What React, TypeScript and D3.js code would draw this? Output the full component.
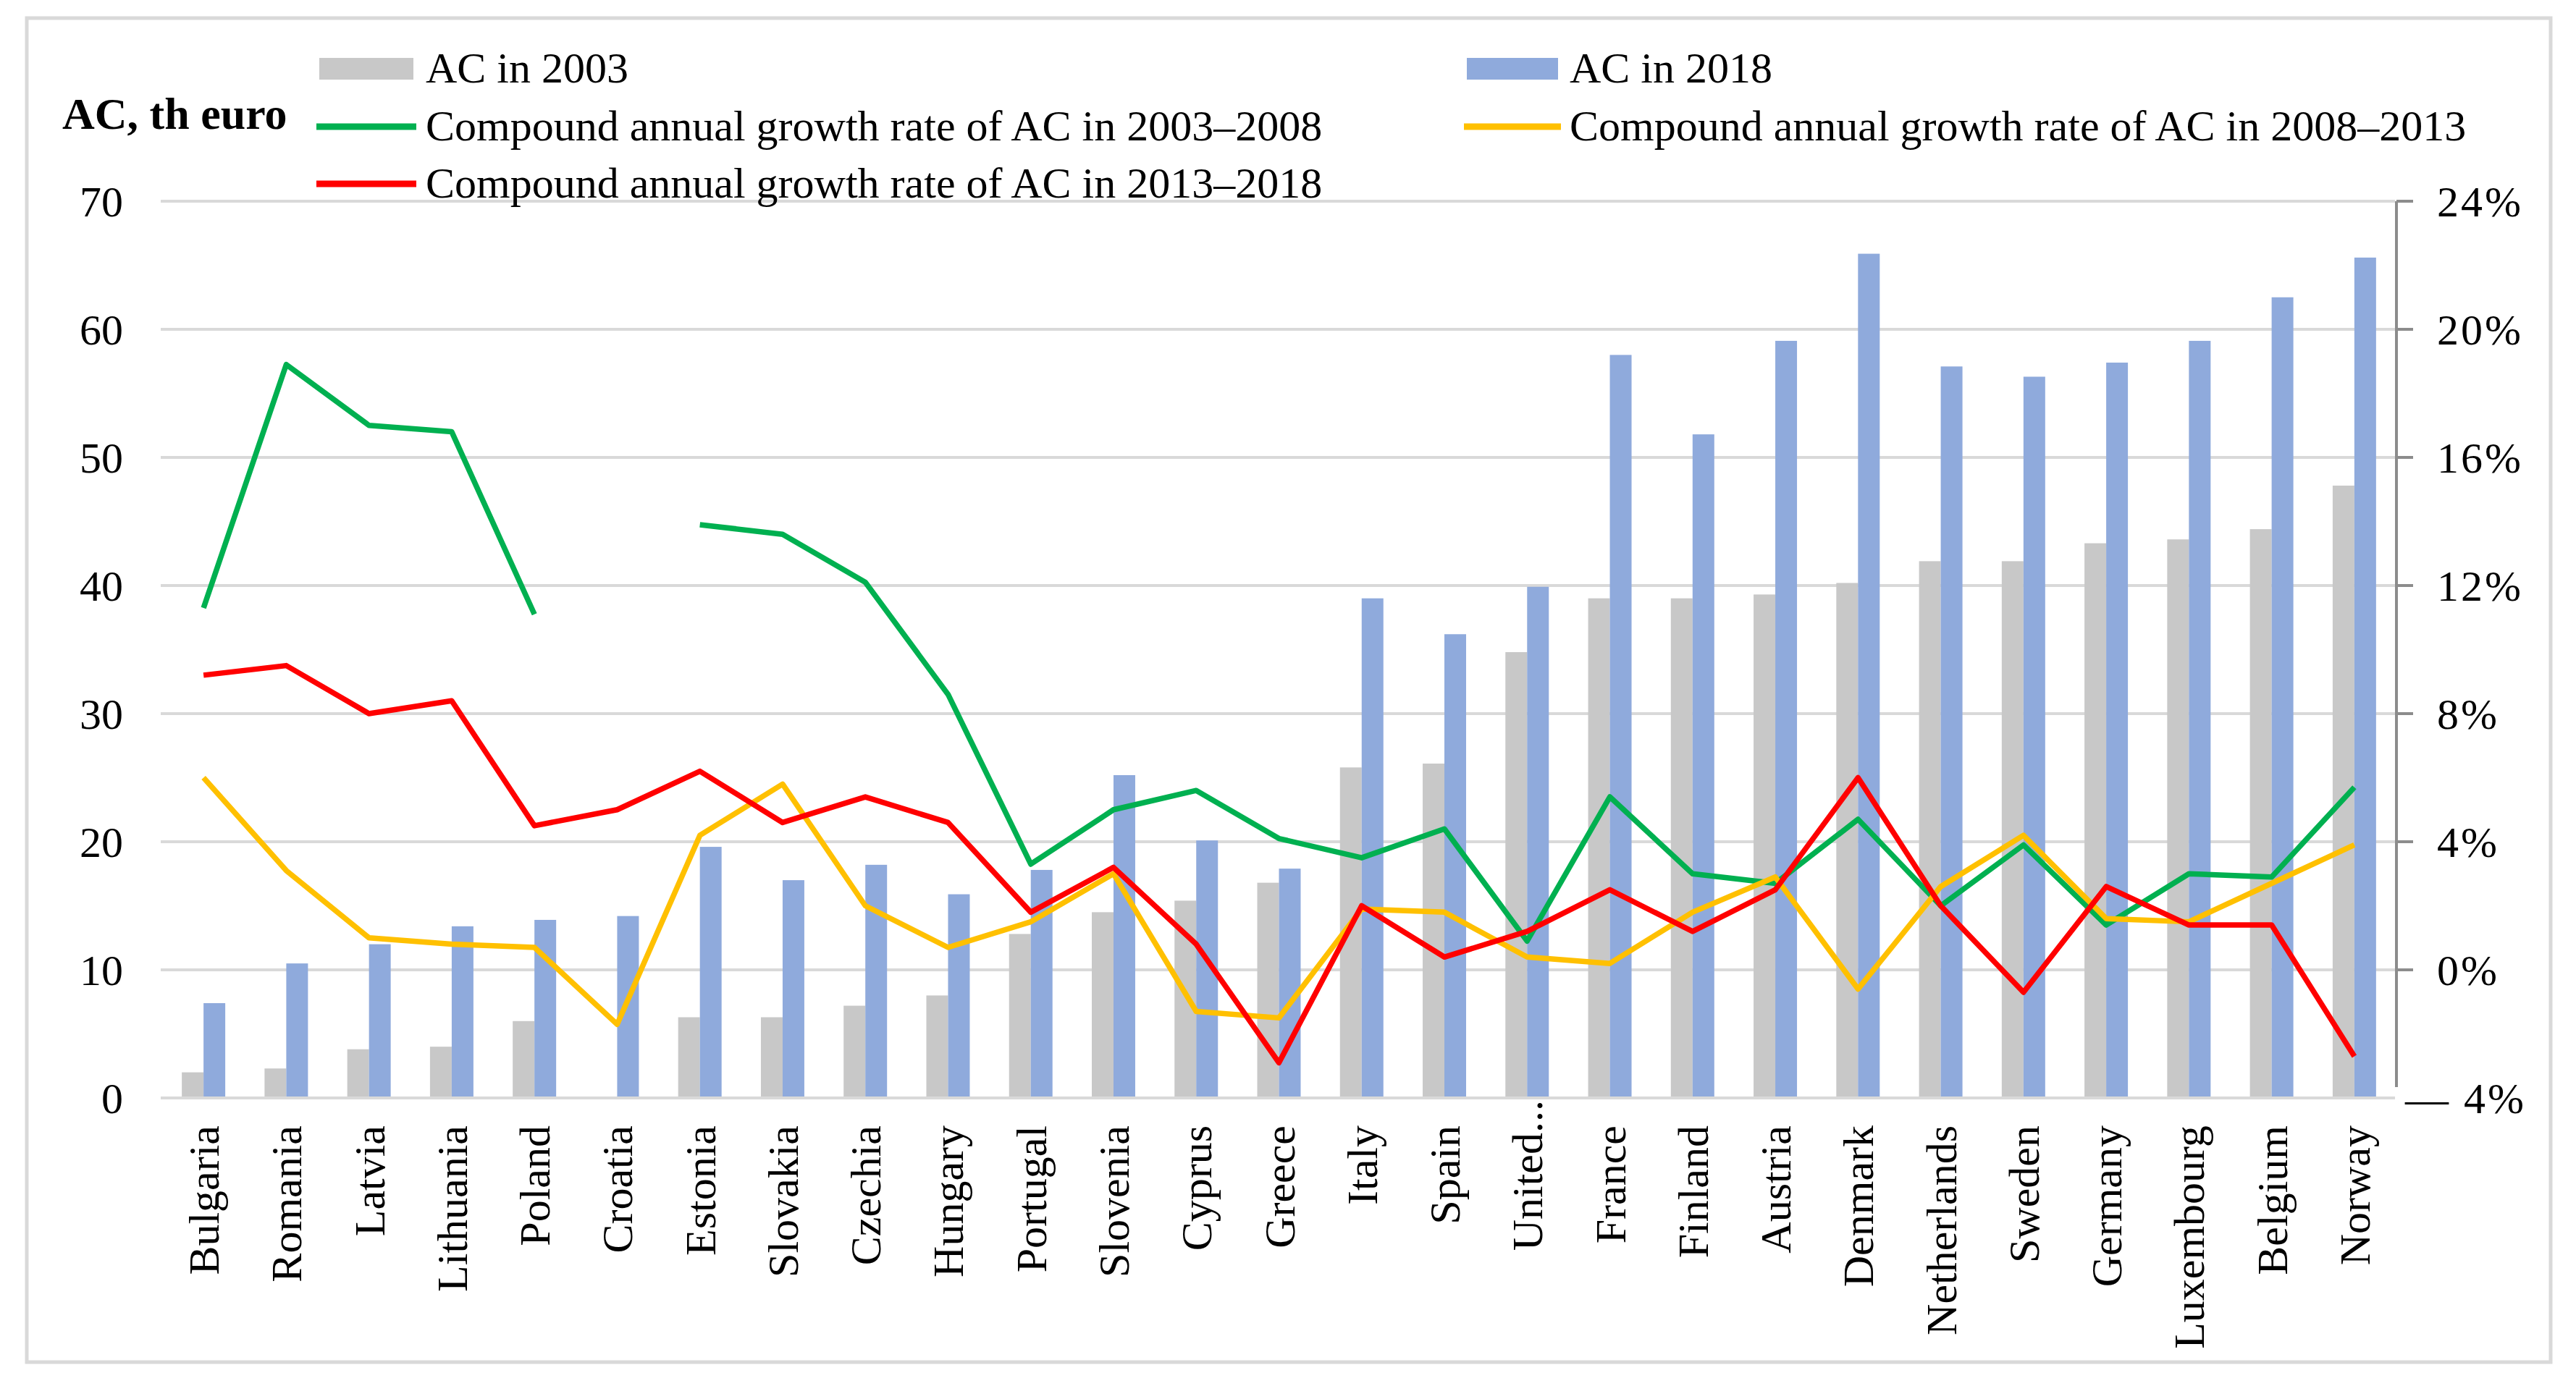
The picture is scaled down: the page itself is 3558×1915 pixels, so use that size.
import React from "react";
import * as d3 from "d3";

const countries = [
  "Bulgaria", "Romania", "Latvia", "Lithuania", "Poland", "Croatia", "Estonia",
  "Slovakia", "Czechia", "Hungary", "Portugal", "Slovenia", "Cyprus", "Greece",
  "Italy", "Spain", "United...", "France", "Finland", "Austria", "Denmark",
  "Netherlands", "Sweden", "Germany", "Luxembourg", "Belgium", "Norway",
];

// AC, th euro
const ac2003: (number | null)[] = [
  2.0, 2.3, 3.8, 4.0, 6.0, null, 6.3, 6.3, 7.2, 8.0, 12.8, 14.5, 15.4, 16.8,
  25.8, 26.1, 34.8, 39.0, 39.0, 39.3, 40.2, 41.9, 41.9, 43.3, 43.6, 44.4, 47.8,
];
const ac2018: number[] = [
  7.4, 10.5, 12.0, 13.4, 13.9, 14.2, 19.6, 17.0, 18.2, 15.9, 17.8, 25.2, 20.1, 17.9,
  39.0, 36.2, 39.9, 58.0, 51.8, 59.1, 65.9, 57.1, 56.3, 57.4, 59.1, 62.5, 65.6,
];

// compound annual growth rates, %
const cagr0308: (number | null)[] = [
  11.3, 18.9, 17.0, 16.8, 11.1, null, 13.9, 13.6, 12.1, 8.6, 3.3, 5.0, 5.6, 4.1,
  3.5, 4.4, 0.9, 5.4, 3.0, 2.7, 4.7, 2.0, 3.9, 1.4, 3.0, 2.9, 5.7,
];
const cagr0813: number[] = [
  6.0, 3.1, 1.0, 0.8, 0.7, -1.7, 4.2, 5.8, 2.0, 0.7, 1.5, 3.0, -1.3, -1.5,
  1.9, 1.8, 0.4, 0.2, 1.8, 2.9, -0.6, 2.6, 4.2, 1.6, 1.5, 2.7, 3.9,
];
const cagr1318: number[] = [
  9.2, 9.5, 8.0, 8.4, 4.5, 5.0, 6.2, 4.6, 5.4, 4.6, 1.8, 3.2, 0.8, -2.9,
  2.0, 0.4, 1.2, 2.5, 1.2, 2.5, 6.0, 2.0, -0.7, 2.6, 1.4, 1.4, -2.7,
];

const leftTicks = [0, 10, 20, 30, 40, 50, 60, 70];
const rightTicks = [-4, 0, 4, 8, 12, 16, 20, 24];
const rightTickLabels = ["\u2014 4%", "0%", "4%", "8%", "12%", "16%", "20%", "24%"];

const W = 3558;
const H = 1915;
const FONT = "'Liberation Serif', 'Times New Roman', serif";

const GRAY = "#c8c8c8";
const BLUE = "#8faadc";
const GREEN = "#00b050";
const YELLOW = "#ffc000";
const RED = "#ff0000";

export default function App() {
  const left = 222;
  const right = 3308;
  const top = 278;
  const bottom = 1517;

  const x0 = d3
    .scaleBand<string>()
    .domain(countries)
    .range([left + 2, right + 1])
    .paddingInner(0.475)
    .paddingOuter(0.2375);
  const x1 = d3.scaleBand<string>().domain(["2003", "2018"]).range([0, x0.bandwidth()]);

  const yL = d3.scaleLinear().domain([0, 70]).range([bottom, top]);
  const yR = d3.scaleLinear().domain([-4, 24]).range([bottom, top]);

  const cx = (i: number) => (x0(countries[i]) ?? 0) + x0.bandwidth() / 2;

  const line = d3
    .line<number | null>()
    .defined((d) => d != null)
    .x((_, i) => cx(i))
    .y((d) => yR(d as number));

  const series = [
    { values: cagr0308, color: GREEN },
    { values: cagr0813, color: YELLOW },
    { values: cagr1318, color: RED },
  ];

  return (
    <div style={{ position: "absolute", left: 0, top: 0, background: "#fff" }}>
      <svg width={W} height={H} viewBox={`0 0 ${W} ${H}`} fontFamily={FONT}>
        <rect x={0} y={0} width={W} height={H} fill="#fff" />
        {/* outer frame */}
        <rect x={37} y={25} width={3486} height={1857} fill="none" stroke="#d9d9d9" strokeWidth={5} />

        {/* gridlines */}
        {leftTicks.map((t) => (
          <line key={`g${t}`} x1={left} x2={right} y1={yL(t)} y2={yL(t)} stroke="#d9d9d9" strokeWidth={4} />
        ))}

        {/* bars */}
        {countries.map((c, i) => (
          <g key={`b${c}`} transform={`translate(${x0(c)},0)`}>
            {ac2003[i] != null && (
              <rect
                x={x1("2003")}
                y={yL(ac2003[i] as number)}
                width={x1.bandwidth()}
                height={bottom - 2 - yL(ac2003[i] as number)}
                fill={GRAY}
              />
            )}
            <rect
              x={x1("2018")}
              y={yL(ac2018[i])}
              width={x1.bandwidth()}
              height={bottom - 2 - yL(ac2018[i])}
              fill={BLUE}
            />
          </g>
        ))}

        {/* growth lines */}
        {series.map((s, k) => (
          <path
            key={`l${k}`}
            d={line(s.values) ?? ""}
            fill="none"
            stroke={s.color}
            strokeWidth={7.5}
            strokeLinejoin="round"
          />
        ))}

        {/* left axis labels */}
        {leftTicks.map((t) => (
          <text key={`lt${t}`} x={170} y={yL(t)} dy="0.35em" textAnchor="end" fontSize={60} fill="#000">
            {t}
          </text>
        ))}

        {/* right axis */}
        <line x1={3310} x2={3310} y1={top} y2={1502} stroke="#8c8c8c" strokeWidth={4} />
        {rightTicks.slice(1).map((t) => (
          <line key={`rt${t}`} x1={3310} x2={3333} y1={yR(t)} y2={yR(t)} stroke="#8c8c8c" strokeWidth={4} />
        ))}
        {rightTicks.map((t, i) => (
          <text
            key={`rl${t}`}
            x={t < 0 ? 3322 : 3366}
            y={yR(t)}
            dy="0.35em"
            fontSize={60}
            letterSpacing={3}
            fill="#000"
          >
            {rightTickLabels[i]}
          </text>
        ))}

        {/* category labels */}
        {countries.map((c, i) => (
          <text
            key={`x${c}`}
            transform={`translate(${cx(i)},${c.endsWith("...") ? 1520 : 1555}) rotate(-90)`}
            dy="0.35em"
            textAnchor="end"
            fontSize={60}
            fill="#000"
          >
            {c}
          </text>
        ))}

        {/* y-axis title */}
        <text x={86} y={178} fontSize={62} fontWeight="bold" fill="#000">
          AC, th euro
        </text>

        {/* legend */}
        <rect x={441} y={80} width={130} height={30} fill={GRAY} />
        <text x={588} y={114} fontSize={60} fill="#000">AC in 2003</text>
        <rect x={2026} y={80} width={126} height={30} fill={BLUE} />
        <text x={2168} y={114} fontSize={60} fill="#000">AC in 2018</text>

        <line x1={437} x2={575} y1={175} y2={175} stroke={GREEN} strokeWidth={9} />
        <text x={588} y={194} fontSize={60} fill="#000">
          Compound annual growth rate of AC in 2003–2008
        </text>
        <line x1={2022} x2={2156} y1={175} y2={175} stroke={YELLOW} strokeWidth={9} />
        <text x={2168} y={194} fontSize={60} fill="#000">
          Compound annual growth rate of AC in 2008–2013
        </text>
        <line x1={437} x2={575} y1={254} y2={254} stroke={RED} strokeWidth={9} />
        <text x={588} y={273} fontSize={60} fill="#000">
          Compound annual growth rate of AC in 2013–2018
        </text>
      </svg>
    </div>
  );
}
